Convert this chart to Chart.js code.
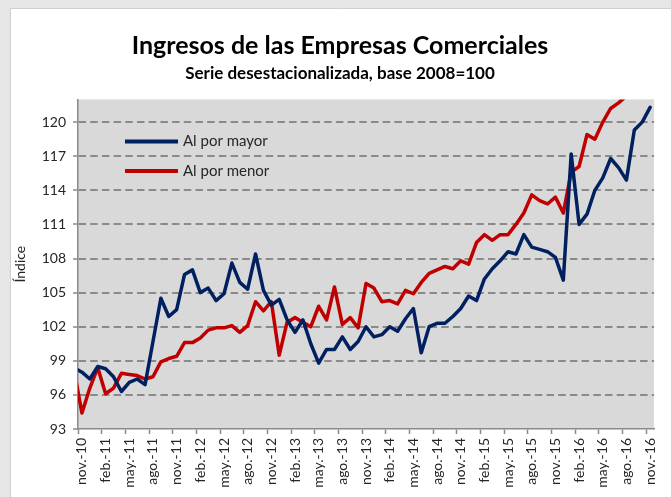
<!DOCTYPE html>
<html>
<head>
<meta charset="utf-8">
<script src="https://cdn.jsdelivr.net/npm/chart.js@4.4.1/dist/chart.umd.min.js"></script>
<style>
  html, body { margin: 0; padding: 0; background: #ffffff; }
  #wrap { position: relative; width: 671px; height: 497px; }
</style>
</head>
<body>
<div id="wrap"><canvas id="c"></canvas></div>
<script>
// ---- Data ----
// 'oct.-10' lies just left of the visible range (the lines enter the plot from it, clipped at the axis)
const categories = ['oct.-10','nov.-10','dic.-10',
  'ene.-11','feb.-11','mar.-11','abr.-11','may.-11','jun.-11','jul.-11','ago.-11','sep.-11','oct.-11','nov.-11','dic.-11',
  'ene.-12','feb.-12','mar.-12','abr.-12','may.-12','jun.-12','jul.-12','ago.-12','sep.-12','oct.-12','nov.-12','dic.-12',
  'ene.-13','feb.-13','mar.-13','abr.-13','may.-13','jun.-13','jul.-13','ago.-13','sep.-13','oct.-13','nov.-13','dic.-13',
  'ene.-14','feb.-14','mar.-14','abr.-14','may.-14','jun.-14','jul.-14','ago.-14','sep.-14','oct.-14','nov.-14','dic.-14',
  'ene.-15','feb.-15','mar.-15','abr.-15','may.-15','jun.-15','jul.-15','ago.-15','sep.-15','oct.-15','nov.-15','dic.-15',
  'ene.-16','feb.-16','mar.-16','abr.-16','may.-16','jun.-16','jul.-16','ago.-16','sep.-16','oct.-16','nov.-16'];

const alPorMayor = [98.4,98.0,97.4,
  98.5,98.3,97.6,96.3,97.1,97.4,96.9,100.7,104.5,102.9,103.5,106.6,
  107.0,105.0,105.4,104.3,104.9,107.6,105.9,105.3,108.4,105.2,103.9,104.4,
  102.6,101.5,102.6,100.5,98.8,100.0,100.0,101.1,100.0,100.7,102.0,101.1,
  101.3,102.0,101.6,102.7,103.6,99.7,102.0,102.3,102.3,102.9,103.6,104.7,
  104.3,106.2,107.1,107.8,108.6,108.4,110.1,109.0,108.8,108.6,108.1,106.1,
  117.2,111.0,111.9,114.0,115.1,116.8,116.0,114.9,119.3,120.0,121.3];

const alPorMenor = [98.2,94.4,96.6,
  98.4,96.1,96.6,97.9,97.8,97.7,97.4,97.6,98.9,99.2,99.4,100.6,
  100.6,101.0,101.7,101.9,101.9,102.1,101.5,102.1,104.2,103.4,104.2,99.5,
  102.4,102.8,102.4,102.0,103.8,102.6,105.5,102.2,102.8,101.9,105.8,105.4,
  104.2,104.3,104.0,105.2,104.9,105.9,106.7,107.0,107.3,107.1,107.8,107.5,
  109.4,110.1,109.6,110.1,110.1,111.0,112.0,113.6,113.1,112.8,113.4,112.0,
  115.6,116.1,118.9,118.5,120.0,121.2,121.7,122.3,122.8,123.2,123.7];

const seriesNames = ['Al por mayor', 'Al por menor'];
const xFirst = 'nov.-10';
const yMin = 93, yMax = 122, yStep = 3;
const labelEvery = 3;

// ---- Styles ----
const FONT = 'Lato, "DejaVu Sans", sans-serif';
const BLUE = '#002060';
const RED = '#C00000';
const GRID = '#8a8a8a';
const TEXT = '#262626';
Chart.defaults.font.family = FONT;
Chart.defaults.color = TEXT;

const framePlugin = {
  id: 'frame',
  beforeDraw(chart) {
    const {ctx, width, height, chartArea: a} = chart;
    ctx.save();
    ctx.fillStyle = '#e6e6e6';
    ctx.fillRect(0, 0, width, height);
    ctx.fillStyle = '#ffffff';
    ctx.fillRect(10, 8, width - 10, height - 8);
    ctx.strokeStyle = '#cfcfcf';
    ctx.lineWidth = 1;
    ctx.beginPath();
    ctx.moveTo(10.5, height);
    ctx.lineTo(10.5, 8.5);
    ctx.lineTo(width, 8.5);
    ctx.stroke();
    ctx.fillStyle = '#d9d9d9';
    ctx.fillRect(a.left, a.top, a.right - a.left, a.bottom - a.top);
    ctx.restore();
  }
};

const legendPlugin = {
  id: 'innerLegend',
  afterDatasetsDraw(chart) {
    const {ctx, chartArea: a} = chart;
    ctx.save();
    const x0 = a.left + 47, x1 = a.left + 100;
    const ys = [a.top + 42, a.top + 71.5];
    chart.data.datasets.forEach((ds, i) => {
      ctx.strokeStyle = ds.borderColor;
      ctx.lineWidth = 4;
      ctx.beginPath();
      ctx.moveTo(x0, ys[i]);
      ctx.lineTo(x1, ys[i]);
      ctx.stroke();
      ctx.fillStyle = TEXT;
      ctx.font = '15px ' + FONT;
      ctx.textBaseline = 'middle';
      ctx.textAlign = 'left';
      ctx.fillText(ds.label, x1 + 5, ys[i]);
    });
    ctx.restore();
  }
};

new Chart(document.getElementById('c'), {
  type: 'line',
  data: {
    labels: categories,
    datasets: [
      { label: seriesNames[0], data: alPorMayor, borderColor: BLUE, backgroundColor: BLUE,
        borderWidth: 3.5, pointRadius: 0, tension: 0, borderJoinStyle: 'round', borderCapStyle: 'round' },
      { label: seriesNames[1], data: alPorMenor, borderColor: RED, backgroundColor: RED,
        borderWidth: 3.5, pointRadius: 0, tension: 0, borderJoinStyle: 'round', borderCapStyle: 'round' }
    ]
  },
  options: {
    responsive: true,
    maintainAspectRatio: false,
    devicePixelRatio: 1,
    animation: false,
    layout: { padding: { left: 23, right: 14, top: 0, bottom: 0 } },
    plugins: {
      legend: { display: false },
      tooltip: { enabled: false },
      title: {
        display: true,
        text: 'Ingresos de las Empresas Comerciales',
        color: '#000000',
        font: { size: 25, weight: 'bold', family: FONT },
        padding: { top: 31, bottom: 0 }
      },
      subtitle: {
        display: true,
        text: 'Serie desestacionalizada, base 2008=100',
        color: '#000000',
        font: { size: 17, weight: 'bold', family: FONT },
        padding: { top: 2, bottom: 16 }
      }
    },
    scales: {
      x: {
        type: 'category',
        min: xFirst,
        offset: true,
        grid: {
          offset: true,
          drawOnChartArea: false,
          drawTicks: true,
          tickLength: 5,
          tickWidth: 1.5,
          tickColor: (c) => (c.index % labelEvery === 0 ? GRID : 'rgba(0,0,0,0)')
        },
        border: { display: true, color: GRID, width: 1.5 },
        ticks: {
          autoSkip: false,
          minRotation: 90,
          maxRotation: 90,
          padding: 4,
          color: TEXT,
          font: { size: 14 },
          callback: function (value, index) {
            return index % labelEvery === 0 ? this.getLabelForValue(value) : '';
          }
        },
        afterFit: (s) => { s.height = 68; }
      },
      y: {
        min: yMin,
        max: yMax,
        grid: {
          color: (c) => (c.tick && c.tick.value === yMin ? 'rgba(0,0,0,0)' : GRID),
          lineWidth: 2,
          drawTicks: true,
          tickLength: 5,
          tickWidth: 1.5,
          tickColor: GRID
        },
        border: { display: true, color: GRID, width: 1.5, dash: [7.5, 4.2] },
        ticks: {
          stepSize: yStep,
          includeBounds: false,
          padding: 7,
          color: TEXT,
          font: { size: 14 }
        },
        afterBuildTicks: (s) => { s.ticks = s.ticks.filter(t => (t.value - yMin) % yStep === 0); },
        title: {
          display: true,
          text: 'Índice',
          color: TEXT,
          font: { size: 14 },
          padding: { top: -11, bottom: 0 }
        },
        afterFit: (s) => { s.width = 55; }
      }
    }
  },
  plugins: [framePlugin, legendPlugin]
});
</script>
</body>
</html>
